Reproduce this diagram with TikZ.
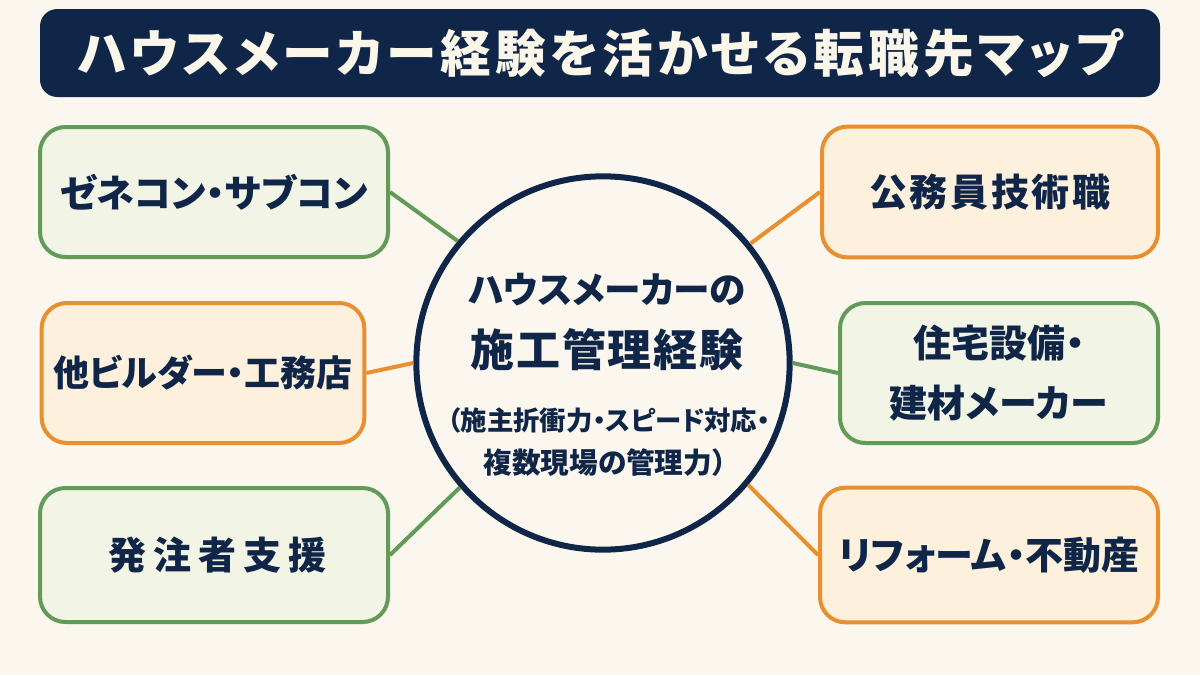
\documentclass[tikz,border=0pt]{standalone}
\usepackage{fontspec}
\setmainfont{Noto Sans CJK JP}[RawFeature={+palt}]
\usetikzlibrary{positioning}

\definecolor{bgcream}{HTML}{FBF7EE}
\definecolor{titlewhite}{HTML}{FBF6EA}
\definecolor{navy}{HTML}{102648}
\definecolor{leafgreen}{HTML}{629A58}
\definecolor{leaffill}{HTML}{F2F4E6}
\definecolor{amber}{HTML}{E88F30}
\definecolor{amberfill}{HTML}{FDF0DC}

\tikzset{
  titlebar/.style={fill=navy, text=titlewhite, rounded corners=13pt, inner sep=0pt,
    minimum width=840pt, minimum height=66pt,
    font=\bfseries\fontsize{38}{44}\selectfont\addfontfeature{LetterSpace=8}},
  jobbox/.style={draw, line width=3pt, rounded corners=19pt, inner sep=0pt, align=center,
    text=navy, font=\bfseries\fontsize{28.5}{45}\selectfont},
  greenbox/.style={jobbox, draw=leafgreen, fill=leaffill},
  orangebox/.style={jobbox, draw=amber, fill=amberfill},
  hub/.style={circle, draw=navy, line width=4.5pt, fill=bgcream, inner sep=0pt, minimum size=280pt},
  hubtext/.style={inner sep=0pt, text=navy},
  link/.style={line width=3pt},
}

\begin{document}
\begin{tikzpicture}[x=0.75pt,y=-0.75pt]
  \fill[bgcream] (0,0) rectangle (1200,675);
  \useasboundingbox (0,0) rectangle (1200,675);

  % title
  \node[titlebar] (title) at (600,53) {ハウスメーカー経験を活かせる転職先マップ};

  % centre
  \node[hub] (hub) at (603,363) {};
  \node[hubtext, font=\bfseries\fontsize{27.5}{30}\selectfont] (hubA) at (607,290) {ハウスメーカーの};
  \node[hubtext, font=\bfseries\fontsize{33}{36}\selectfont\addfontfeature{LetterSpace=4}] (hubB) at (607,350) {施工管理経験};
  \node[hubtext, font=\bfseries\fontsize{19.8}{24}\selectfont] (hubC) at (609,420) {（施主折衝力・スピード対応・};
  \node[hubtext, font=\bfseries\fontsize{21.5}{24}\selectfont] (hubD) at (605,463) {複数現場の管理力）};

  % left side
  \node[greenbox, minimum width=261pt, minimum height=97.5pt]    (zene)    at (214,192) {ゼネコン・サブコン};
  \node[orangebox, minimum width=242pt, minimum height=105pt,
        font=\bfseries\fontsize{27}{45}\selectfont]              (builder) at (203,373) {他ビルダー・工務店};
  \node[greenbox, minimum width=261pt, minimum height=100.5pt,
        font=\bfseries\fontsize{28.5}{45}\selectfont\addfontfeature{LetterSpace=18}] (hatchu) at (214,555) {\kern5pt発注者支援};

  % right side
  \node[orangebox, minimum width=252pt, minimum height=98pt,
        font=\bfseries\fontsize{28.5}{45}\selectfont\addfontfeature{LetterSpace=7}] (koumu) at (990,192) {公務員技術職};
  \node[greenbox, minimum width=238.5pt, minimum height=105pt]   (setsubi) at (999,373) {住宅設備・\\建材メーカー};
  \node[orangebox, minimum width=253.5pt, minimum height=101pt]  (reform)  at (989,555) {リフォーム・不動産};

  \path[link]
    (hub.140) edge[leafgreen] (zene.east)
    (hub.180) edge[amber]     (builder.east)
    (hub.221) edge[leafgreen] (hatchu.east)
    (hub.39)  edge[amber]     (koumu.west)
    (hub.0)   edge[leafgreen] (setsubi.west)
    (hub.-40) edge[amber]     (reform.west);
\end{tikzpicture}
\end{document}
